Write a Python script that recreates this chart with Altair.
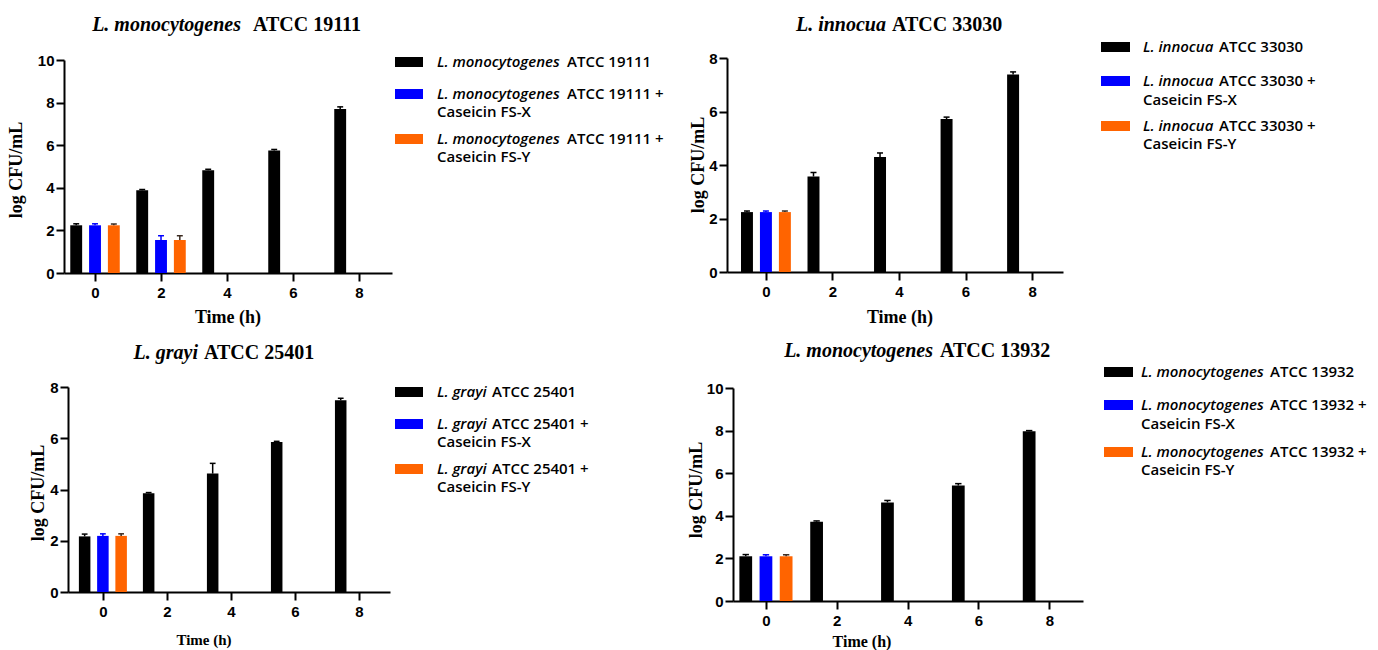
import altair as alt
import pandas as pd

# ---------------- data ----------------
times = [0, 2, 4, 6, 8]
series_keys = ["ctrl", "fsx", "fsy"]
bar_colors = ["#000000", "#0000FF", "#FF6400"]
err_colors = ["#000000", "#0000FF", "#3a2a20"]

# Panel 1: L. monocytogenes ATCC 19111
p1_ctrl = [2.24, 3.88, 4.82, 5.75, 7.70]
p1_ctrl_err = [0.07, 0.04, 0.05, 0.05, 0.10]
p1_fsx = [2.24, 1.55, 0, 0, 0]
p1_fsx_err = [0.07, 0.20, 0, 0, 0]
p1_fsy = [2.24, 1.55, 0, 0, 0]
p1_fsy_err = [0.06, 0.20, 0, 0, 0]

# Panel 2: L. innocua ATCC 33030
p2_ctrl = [2.24, 3.57, 4.30, 5.72, 7.38]
p2_ctrl_err = [0.04, 0.15, 0.15, 0.07, 0.10]
p2_fsx = [2.24, 0, 0, 0, 0]
p2_fsx_err = [0.04, 0, 0, 0, 0]
p2_fsy = [2.24, 0, 0, 0, 0]
p2_fsy_err = [0.04, 0, 0, 0, 0]

# Panel 3: L. grayi ATCC 25401
p3_ctrl = [2.17, 3.85, 4.62, 5.85, 7.48]
p3_ctrl_err = [0.09, 0.03, 0.40, 0.03, 0.08]
p3_fsx = [2.19, 0, 0, 0, 0]
p3_fsx_err = [0.08, 0, 0, 0, 0]
p3_fsy = [2.19, 0, 0, 0, 0]
p3_fsy_err = [0.08, 0, 0, 0, 0]

# Panel 4: L. monocytogenes ATCC 13932
p4_ctrl = [2.10, 3.72, 4.63, 5.42, 7.97]
p4_ctrl_err = [0.08, 0.04, 0.09, 0.09, 0.03]
p4_fsx = [2.10, 0, 0, 0, 0]
p4_fsx_err = [0.07, 0, 0, 0, 0]
p4_fsy = [2.10, 0, 0, 0, 0]
p4_fsy_err = [0.07, 0, 0, 0, 0]

species = ["L. monocytogenes", "L. innocua", "L. grayi", "L. monocytogenes"]
strains = ["ATCC 19111", "ATCC 33030", "ATCC 25401", "ATCC 13932"]
treat_labels = ["Caseicin FS-X", "Caseicin FS-Y"]
x_title = "Time (h)"
y_title = "log CFU/mL"
x_ticks = [0, 2, 4, 6, 8]
y_ticks_10 = [0, 2, 4, 6, 8, 10]
y_ticks_8 = [0, 2, 4, 6, 8]

panel_values = [
    (p1_ctrl, p1_ctrl_err, p1_fsx, p1_fsx_err, p1_fsy, p1_fsy_err),
    (p2_ctrl, p2_ctrl_err, p2_fsx, p2_fsx_err, p2_fsy, p2_fsy_err),
    (p3_ctrl, p3_ctrl_err, p3_fsx, p3_fsx_err, p3_fsy, p3_fsy_err),
    (p4_ctrl, p4_ctrl_err, p4_fsx, p4_fsx_err, p4_fsy, p4_fsy_err),
]

# ---------------- layout (pixels) ----------------
layouts = [
    dict(xr=[64, 392], xd=[-0.94, 9.0], yr=[273, 60], yd=[0, 10], yt=y_ticks_10,
         t_split=(241, 253), t_y=31, xtl=(228, 318), ytl=(17, 170), fs_xt=18,
         sw=(395, 423), rows=[62, 94, 112, 139, 157], tx=437, rx=567),
    dict(xr=[727, 1063], xd=[-1.17, 8.93], yr=[272, 58], yd=[0, 8], yt=y_ticks_8,
         t_split=(886, 892), t_y=31, xtl=(900, 318), ytl=(699, 165), fs_xt=18,
         sw=(1101, 1130), rows=[47, 81, 100, 126, 144], tx=1143, rx=1219),
    dict(xr=[68, 390], xd=[-1.09, 8.97], yr=[592, 387], yd=[0, 8], yt=y_ticks_8,
         t_split=(198, 204), t_y=359, xtl=(204, 640), ytl=(39, 493), fs_xt=15,
         sw=(395, 423), rows=[392, 424, 442, 469, 487], tx=437, rx=492),
    dict(xr=[733, 1083], xd=[-0.93, 8.95], yr=[601, 388], yd=[0, 10], yt=y_ticks_10,
         t_split=(933, 940), t_y=357, xtl=(862, 642), ytl=(697, 490), fs_xt=16,
         sw=(1104, 1133), rows=[372, 405, 424, 452, 470], tx=1141, rx=1270),
]

W, H = 1378, 650
SERIF = "Liberation Serif"
SANS = "Liberation Sans"
LEG = "Open Sans"
LEG_SIZE = 15
LEG_ITALIC_SIZE = 15

offset_expr = "datum.series == 'ctrl' ? -0.57 : (datum.series == 'fsx' ? 0 : 0.57)"


def text_layer(txt, x, y, font, size, weight="bold", style="normal", align="left",
               baseline="alphabetic", angle=0):
    kw = dict(text=txt, font=font, fontSize=size, fontWeight=weight, fontStyle=style,
              align=align, baseline=baseline, color="black")
    if angle:
        kw["angle"] = angle
    return alt.Chart(alt.Data(values=[{"k": 0}])).mark_text(**kw).encode(
        x=alt.value(x), y=alt.value(y))


layers = []
for i, (vals, L) in enumerate(zip(panel_values, layouts)):
    ctrl, ctrl_e, fsx, fsx_e, fsy, fsy_e = vals
    rows = []
    for key, v, e in (("ctrl", ctrl, ctrl_e), ("fsx", fsx, fsx_e), ("fsy", fsy, fsy_e)):
        for t, vv, ee in zip(times, v, e):
            rows.append({"time": t, "series": key, "value": vv, "err": ee})
    df = pd.DataFrame(rows)

    def xs():
        return alt.Scale(domain=L["xd"], range=L["xr"], nice=False, zero=False)

    def ys():
        return alt.Scale(domain=L["yd"], range=L["yr"], nice=False, zero=False)

    xs_axis = alt.Axis(values=x_ticks, title=None, orient="bottom", offset=L["yr"][0] - H,
                       grid=False, domainColor="black", domainWidth=2, tickColor="black",
                       tickWidth=2, tickSize=8, labelFont=SANS, labelFontWeight="bold",
                       labelFontSize=15, labelColor="black", labelPadding=4, labelFlush=False,
                       format="d")
    ys_axis = alt.Axis(values=L["yt"], title=None, orient="left", offset=-L["xr"][0],
                       grid=False, domainColor="black", domainWidth=2, tickColor="black",
                       tickWidth=2, tickSize=8, labelFont=SANS, labelFontWeight="bold",
                       labelFontSize=15, labelColor="black", labelPadding=2, labelFlush=False,
                       format="d")

    base = alt.Chart(df).transform_filter("datum.value > 0").transform_calculate(
        pos="datum.time + (" + offset_expr + ")"
    ).transform_calculate(
        xl="datum.pos - 0.18", xr="datum.pos + 0.18",
        cl="datum.pos - 0.09", cr="datum.pos + 0.09",
        top="datum.value + datum.err",
    )
    bars = base.mark_bar(stroke=None).encode(
        x=alt.X("xl:Q", scale=xs(), axis=xs_axis),
        x2="xr:Q",
        y=alt.Y("value:Q", scale=ys(), axis=ys_axis, stack=None),
        y2=alt.datum(0),
        color=alt.Color("series:N", scale=alt.Scale(domain=series_keys, range=bar_colors),
                        legend=None),
    )
    stem = base.mark_rule(strokeWidth=1.5).encode(
        x=alt.X("pos:Q", scale=xs(), axis=None),
        y=alt.Y("value:Q", scale=ys(), axis=None),
        y2="top:Q",
        stroke=alt.Stroke("series:N", scale=alt.Scale(domain=series_keys, range=err_colors),
                          legend=None),
    )
    cap = base.mark_rule(strokeWidth=1.5).encode(
        x=alt.X("cl:Q", scale=xs(), axis=None),
        x2="cr:Q",
        y=alt.Y("top:Q", scale=ys(), axis=None),
        stroke=alt.Stroke("series:N", scale=alt.Scale(domain=series_keys, range=err_colors),
                          legend=None),
    )
    layers.extend([bars, stem, cap])

texts = []
for i, L in enumerate(layouts):
    texts.append(text_layer(species[i], L["t_split"][0], L["t_y"], SERIF, 20,
                            style="italic", align="right"))
    texts.append(text_layer(strains[i], L["t_split"][1], L["t_y"], SERIF, 20, align="left"))
    texts.append(text_layer(x_title, L["xtl"][0], L["xtl"][1], SERIF, L["fs_xt"],
                            align="center", baseline="middle"))
    texts.append(text_layer(y_title, L["ytl"][0], L["ytl"][1], SERIF, 18,
                            align="center", baseline="middle", angle=270))
    r = L["rows"]
    sw_rows = [r[0], r[1], r[3]]
    for col, yy in zip(bar_colors, sw_rows):
        texts.append(
            alt.Chart(alt.Data(values=[{"k": 0}])).mark_rect(color=col).encode(
                x=alt.value(L["sw"][0]), x2=alt.value(L["sw"][1]),
                y=alt.value(yy - 5), y2=alt.value(yy + 5))
        )
    suffix = ["", " +", " +"]
    for yy, suf in zip(sw_rows, suffix):
        texts.append(text_layer(species[i], L["tx"], yy, LEG, LEG_ITALIC_SIZE, weight=600,
                                style="italic", baseline="middle"))
        texts.append(text_layer(strains[i] + suf, L["rx"], yy, LEG, LEG_SIZE, weight=600,
                                baseline="middle"))
    texts.append(text_layer(treat_labels[0], L["tx"], r[2], LEG, LEG_SIZE, weight=600,
                            baseline="middle"))
    texts.append(text_layer(treat_labels[1], L["tx"], r[4], LEG, LEG_SIZE, weight=600,
                            baseline="middle"))

chart = alt.layer(*layers, *texts).resolve_scale(
    x="independent", y="independent", color="independent", stroke="independent"
).resolve_axis(x="independent", y="independent").properties(
    width=W, height=H, padding=0, autosize=alt.AutoSizeParams(type="none"),
    background="white",
).configure_view(stroke=None)

chart.save("out.html", embed_options={"renderer": "svg", "actions": False})
